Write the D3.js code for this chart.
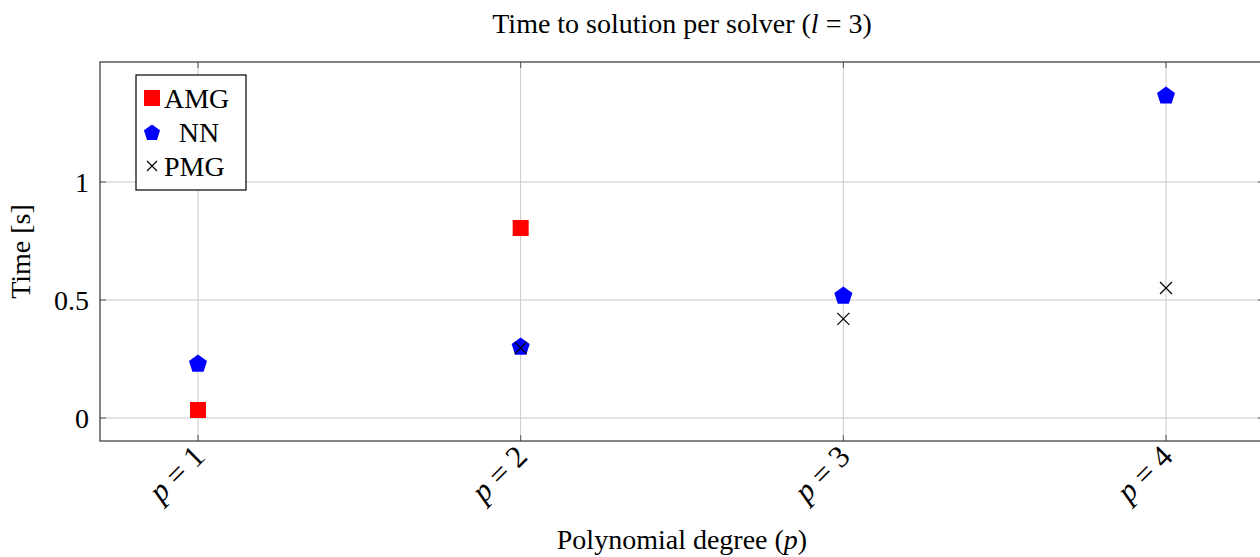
<!DOCTYPE html>
<html>
<head>
<meta charset="UTF-8">
<script src="https://cdnjs.cloudflare.com/ajax/libs/d3/7.8.5/d3.min.js"></script>
<style>
  body { margin: 0; background: #fff; overflow: hidden; }
</style>
</head>
<body>
<div id="chart"></div>
<script>
// data
const categories = ["1", "2", "3", "4"];
const amg = [0.034, 0.805, null, null];
const nn = [0.233, 0.305, 0.521, 1.369];
const pmg = [null, 0.297, 0.42, 0.551];
const yTicks = [0, 0.5, 1];

const width = 1260, height = 557;
const FS = 28;

const svg = d3.select("#chart").append("svg")
    .attr("width", width)
    .attr("height", height)
    .attr("font-family", "'Liberation Serif', 'Times New Roman', serif");

const x = d3.scalePoint()
    .domain(categories)
    .range([198, 1166]);

const y = d3.scaleLinear()
    .domain([0, 1])
    .range([418, 182]);

const x0 = 100, x1 = 1264, yTop = 62, yBot = 441;

// grid
const grid = svg.append("g").attr("stroke", "#c8c8c8").attr("stroke-width", 1);
categories.forEach(c => {
    grid.append("line").attr("x1", x(c)).attr("x2", x(c)).attr("y1", yTop).attr("y2", yBot);
});
yTicks.forEach(t => {
    grid.append("line").attr("x1", x0).attr("x2", x1).attr("y1", y(t)).attr("y2", y(t));
});

// tick marks (inside, both sides)
const ticks = svg.append("g").attr("stroke", "#555").attr("stroke-width", 1);
categories.forEach(c => {
    ticks.append("line").attr("x1", x(c)).attr("x2", x(c)).attr("y1", yBot).attr("y2", yBot - 6);
    ticks.append("line").attr("x1", x(c)).attr("x2", x(c)).attr("y1", yTop).attr("y2", yTop + 6);
});
yTicks.forEach(t => {
    ticks.append("line").attr("x1", x0).attr("x2", x0 + 6).attr("y1", y(t)).attr("y2", y(t));
    ticks.append("line").attr("x1", x1 - 6).attr("x2", x1).attr("y1", y(t)).attr("y2", y(t));
});

// frame
svg.append("rect")
    .attr("x", x0).attr("y", yTop)
    .attr("width", x1 - x0).attr("height", yBot - yTop)
    .attr("fill", "none").attr("stroke", "#333").attr("stroke-width", 1.2);

// y tick labels
svg.append("g").selectAll("text").data(yTicks).join("text")
    .attr("x", 89).attr("y", d => y(d))
    .attr("dy", "0.35em")
    .attr("text-anchor", "end")
    .attr("font-size", FS)
    .text(d => d);

// x tick labels, rotated
const xl = svg.append("g").selectAll("text").data(categories).join("text")
    .attr("transform", d => `translate(${x(d) - 7},${443}) rotate(-45)`)
    .attr("text-anchor", "end")
    .attr("dy", "0.7em")
    .attr("font-size", 31)
    .style("white-space", "pre");
xl.append("tspan").attr("font-style", "italic").text("p");
xl.append("tspan").text(d => " = " + d);

// axis titles
svg.append("text")
    .attr("x", 682).attr("y", 549)
    .attr("text-anchor", "middle").attr("font-size", FS)
    .html('Polynomial degree (<tspan font-style="italic">p</tspan>)');

svg.append("text")
    .attr("transform", `translate(30,${(yTop + yBot) / 2}) rotate(-90)`)
    .attr("text-anchor", "middle").attr("font-size", FS)
    .text("Time [s]");

svg.append("text")
    .attr("x", 682).attr("y", 33)
    .attr("text-anchor", "middle").attr("font-size", FS)
    .style("white-space", "pre")
    .html('Time to solution per solver (<tspan font-style="italic">l</tspan> = 3)');

// markers
const pentagon = r => d3.range(5).map(i => {
    const a = -Math.PI / 2 + i * 2 * Math.PI / 5;
    return [r * Math.cos(a), r * Math.sin(a)];
});
const pentPath = "M" + pentagon(9.5).join("L") + "Z";
const crossPath = "M-6,-6L6,6M-6,6L6,-6";

const marks = svg.append("g");

marks.selectAll(".amg").data(categories.map((c, i) => [c, amg[i]]).filter(d => d[1] != null))
    .join("rect").attr("class", "amg")
    .attr("x", d => x(d[0]) - 8).attr("y", d => y(d[1]) - 8)
    .attr("width", 16).attr("height", 16)
    .attr("fill", "#ff0000");

marks.selectAll(".nn").data(categories.map((c, i) => [c, nn[i]]).filter(d => d[1] != null))
    .join("path").attr("class", "nn")
    .attr("transform", d => `translate(${x(d[0])},${y(d[1]) + 1})`)
    .attr("d", pentPath)
    .attr("fill", "#0000ff");

marks.selectAll(".pmg").data(categories.map((c, i) => [c, pmg[i]]).filter(d => d[1] != null))
    .join("path").attr("class", "pmg")
    .attr("transform", d => `translate(${x(d[0])},${y(d[1])})`)
    .attr("d", crossPath)
    .attr("stroke", "#000").attr("stroke-width", 1.2).attr("fill", "none");

// legend
const leg = svg.append("g");
leg.append("rect")
    .attr("x", 136).attr("y", 75).attr("width", 110).attr("height", 115)
    .attr("fill", "#fff").attr("stroke", "#000").attr("stroke-width", 1.2);

const legItems = ["AMG", "NN", "PMG"];
legItems.forEach((name, i) => {
    const cy = 98 + i * 34;
    if (name === "AMG") {
        leg.append("rect").attr("x", 144).attr("y", cy - 8).attr("width", 16).attr("height", 16).attr("fill", "#ff0000");
    } else if (name === "NN") {
        leg.append("path").attr("transform", `translate(152,${cy + 1})`).attr("d", "M" + pentagon(8.5).join("L") + "Z").attr("fill", "#0000ff");
    } else {
        leg.append("path").attr("transform", `translate(152,${cy})`).attr("d", "M-5,-5L5,5M-5,5L5,-5")
            .attr("stroke", "#000").attr("stroke-width", 1.2);
    }
    leg.append("text")
        .attr("x", name === "NN" ? 199 : 164).attr("y", cy)
        .attr("dy", "0.35em")
        .attr("text-anchor", name === "NN" ? "middle" : "start")
        .attr("font-size", FS)
        .text(name);
});
</script>
</body>
</html>
